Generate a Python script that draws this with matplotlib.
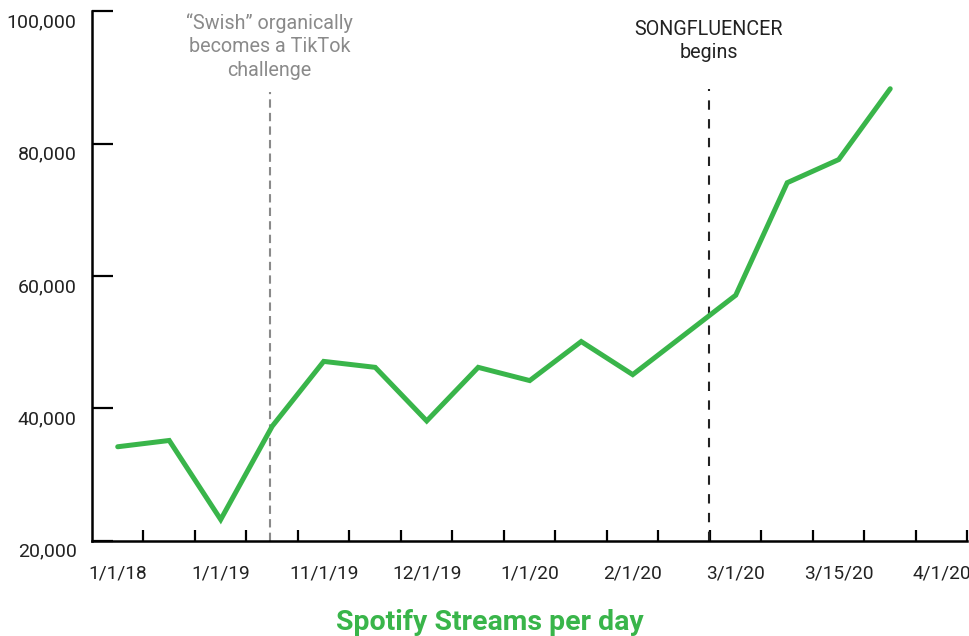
import matplotlib
matplotlib.use("Agg")
import matplotlib.pyplot as plt
from matplotlib.transforms import ScaledTranslation

plt.rcParams["font.family"] = ["Roboto", "DejaVu Sans"]

# positions are period slots (one slot per tick interval)
slots = [0.5, 1.5, 2.5, 3.5, 4.5, 5.5, 6.5, 7.5, 8.5, 9.5, 10.5, 11.5, 12.5, 13.5, 14.5, 15.5]
streams = [34200, 35150, 23200, 37300, 47100, 46200, 38100, 46200, 44200, 50100,
           45100, 51100, 57100, 74100, 77600, 88300]

date_labels = ["1/1/18", "1/1/19", "11/1/19", "12/1/19", "1/1/20", "2/1/20",
               "3/1/20", "3/15/20", "4/1/20"]
y_ticks = [20000, 40000, 60000, 80000, 100000]

swish_x = 3.45
songfluencer_x = 11.98

GREEN = "#39b54a"
DARK = "#222222"
GREY = "#8a8a8a"

fig = plt.figure(figsize=(9.7, 6.36), dpi=100)
ax = fig.add_axes([0.0948, 0.1498, 0.9026, 0.8324])

ax.plot(slots, streams, color=GREEN, linewidth=3.6, solid_joinstyle="miter",
        solid_capstyle="round", zorder=3)

ax.axvline(swish_x, ymin=0, ymax=0.848, color=GREY, linewidth=1.5,
           linestyle=(0, (4, 2.5)), zorder=2)
ax.axvline(songfluencer_x, ymin=0, ymax=0.853, color=DARK, linewidth=1.5,
           linestyle=(0, (4.5, 4.5)), zorder=2)

ax.text(swish_x, 0.997, "\u201cSwish\u201d organically\nbecomes a TikTok\nchallenge",
        transform=ax.get_xaxis_transform(), ha="center", va="top",
        fontsize=14.2, color=GREY, linespacing=1.3)
ax.text(songfluencer_x, 0.984, "SONGFLUENCER\nbegins",
        transform=ax.get_xaxis_transform(), ha="center", va="top",
        fontsize=14.2, color=DARK, linespacing=1.25)

ax.set_xlim(0, 17)
ax.set_ylim(20000, 100000)

for side in ["top", "right"]:
    ax.spines[side].set_visible(False)
for side in ["left", "bottom"]:
    ax.spines[side].set_linewidth(1.8)
    ax.spines[side].set_color("black")

ax.set_xticks(range(1, 18))
ax.set_xticklabels([])
ax.set_xticks([0.5 + 2 * i for i in range(len(date_labels))], minor=True)
ax.set_xticklabels(date_labels, minor=True)
ax.tick_params(axis="x", which="major", direction="in", length=8, width=1.6)
ax.tick_params(axis="x", which="minor", length=0, pad=17, labelsize=13.8,
               labelcolor=DARK)

ax.set_yticks(y_ticks)
ax.set_yticklabels([f"{v:,}" for v in y_ticks])
ax.tick_params(axis="y", direction="in", length=15, width=1.6, pad=11,
               labelsize=14, labelcolor=DARK)
shift = ScaledTranslation(0, -9 / 100, fig.dpi_scale_trans)
for lab in ax.get_yticklabels():
    lab.set_transform(lab.get_transform() + shift)

fig.text(0.505, 1 - 622 / 636, "Spotify Streams per day", ha="center", va="center",
         fontsize=20.5, fontweight="bold", color=GREEN)

fig.savefig("out.png", dpi=100)
